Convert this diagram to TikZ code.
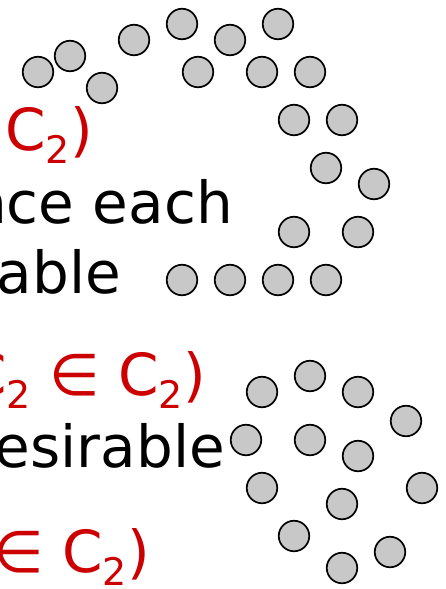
\documentclass[tikz,border=0pt]{standalone}
\usepackage{fontspec}
\setmainfont{DejaVu Sans}
\definecolor{setred}{RGB}{204,0,0}
\definecolor{dotgray}{RGB}{200,200,200}
\newcommand{\subidx}[1]{\raisebox{-13pt}{\fontsize{38}{38}\selectfont #1}}

\begin{document}
\begin{tikzpicture}[x=1pt, y=-1pt,
    dot/.style={circle, draw=black, line width=1.7pt, fill=dotgray,
        minimum size=30.5pt, inner sep=0pt},
    txt/.style={anchor=base east, inner sep=0pt, font=\fontsize{58}{70}\selectfont}]
    \useasboundingbox (0,0) rectangle (445,589);
    \clip (0,0) rectangle (445,589);

    % Text (cut at the left edge)
    \node[txt, text=setred] (lineA) at (93,150) {C\subidx{2})};
    \node[txt] (lineB) at (233,223) {nce each};
    \node[txt] (lineC) at (121,293) {able};
    \node[txt, text=setred] (lineD) at (206,395) {C\subidx{2} ∈ C\subidx{2})};
    \node[txt] (lineE) at (225,467) {esirable};
    \node[txt, text=setred] (lineF) at (150,572) {∈ C\subidx{2})};

    % Upper cluster
    \foreach \x/\y [count=\i] in {38/72, 70/56, 102/88, 134/40, 182/24,
        198/72, 230/40, 278/24, 262/72, 310/72, 294/120, 342/120, 326/168,
        374/184, 294/232, 358/232, 182/280, 230/280, 278/280, 326/280}
        \node[dot] (up\i) at (\x,\y) {};

    % Lower cluster
    \foreach \x/\y [count=\i] in {262/392, 310/376, 358/392, 406/421,
        246/440, 310/440, 358/456, 262/488, 342/504, 422/488, 294/536,
        390/552, 342/568}
        \node[dot] (lo\i) at (\x,\y) {};
\end{tikzpicture}
\end{document}
